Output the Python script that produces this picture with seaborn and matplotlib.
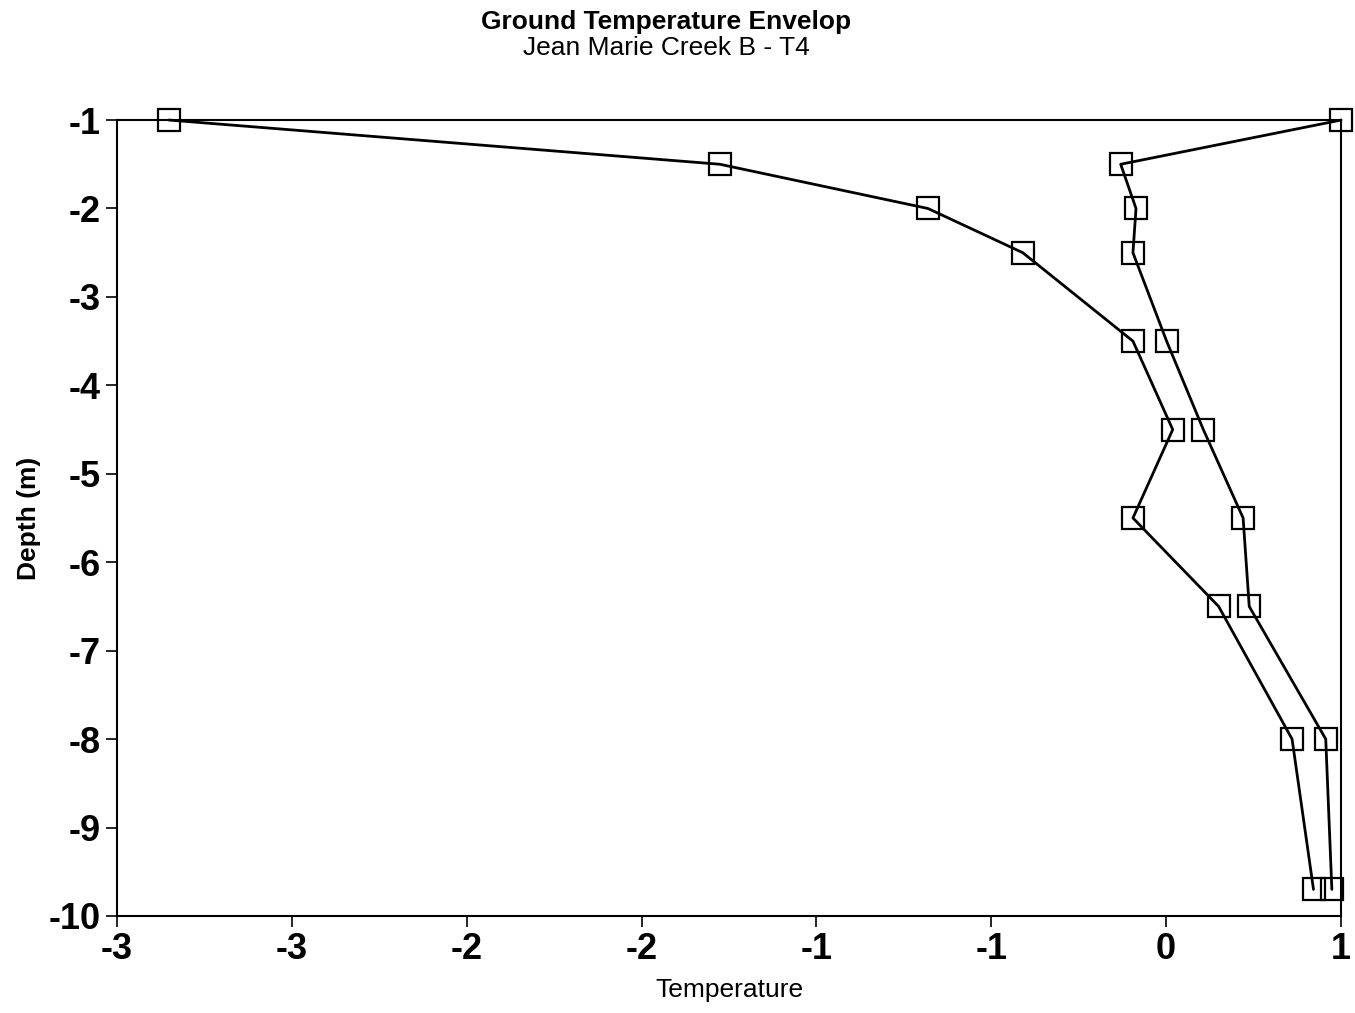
import numpy as np
import pandas as pd
import matplotlib
matplotlib.use("Agg")
import matplotlib.pyplot as plt
import seaborn as sns

# Depths (m) and temperature envelope
depth = [-1, -1.5, -2, -2.5, -3.5, -4.5, -5.5, -6.5, -8, -9.7]
temp_min = [-2.83, -1.03, -0.35, -0.04, 0.32, 0.45, 0.32, 0.60, 0.84, 0.91]
temp_max = [1.00, 0.28, 0.33, 0.32, 0.43, 0.55, 0.68, 0.70, 0.95, 0.97]

x_tick_labels = ['-3', '-3', '-2', '-2', '-1', '-1', '0', '1']
y_ticks = list(range(-1, -11, -1))

sns.set_theme(style="white")
plt.rcParams['font.family'] = ['Liberation Sans', 'DejaVu Sans']
plt.rcParams['text.color'] = 'black'
plt.rcParams['axes.labelcolor'] = 'black'

df = pd.DataFrame({
    'Depth': depth * 2,
    'Temperature': temp_min + temp_max,
    'Series': ['min'] * len(depth) + ['max'] * len(depth),
})

fig = plt.figure(figsize=(13.55, 10.13), dpi=100)
ax = fig.add_axes([0.0863, 0.0958, 0.9897 - 0.0863, 0.8815 - 0.0958])

for name in ['min', 'max']:
    sub = df[df['Series'] == name]
    sns.lineplot(
        data=sub,
        x='Temperature',
        y='Depth',
        sort=False,
        estimator=None,
        color='black',
        linewidth=2.0,
        marker='s',
        markersize=16,
        markerfacecolor='none',
        markeredgecolor='black',
        markeredgewidth=1.6,
        clip_on=False,
        ax=ax,
    )

ax.set_xlim(-3, 1)
ax.set_ylim(-10, -1)
ax.set_xticks(np.linspace(-3, 1, 8))
ax.set_xticklabels(x_tick_labels)
ax.set_yticks(y_ticks)
ax.set_yticklabels([str(v) for v in y_ticks])

ax.tick_params(axis='both', direction='out', length=8, width=1.2,
               labelsize=26, colors='black', bottom=True, left=True)
for lab in ax.get_xticklabels() + ax.get_yticklabels():
    lab.set_fontweight('bold')

for side in ['top', 'right', 'bottom', 'left']:
    ax.spines[side].set_visible(True)
    ax.spines[side].set_color('black')
    ax.spines[side].set_linewidth(1.5)

ax.set_xlabel("Temperature", fontsize=19, labelpad=8, color='black')
ax.set_ylabel("Depth (m)", fontsize=19, fontweight='bold', labelpad=6, color='black')

fig.text(0.4915, 0.978, "Ground Temperature Envelop", ha='center', va='center',
         fontsize=19, fontweight='bold', color='black')
fig.text(0.4915, 0.953, "Jean Marie Creek B - T4", ha='center', va='center',
         fontsize=19, color='black')

plt.savefig("out.png", dpi=100)
